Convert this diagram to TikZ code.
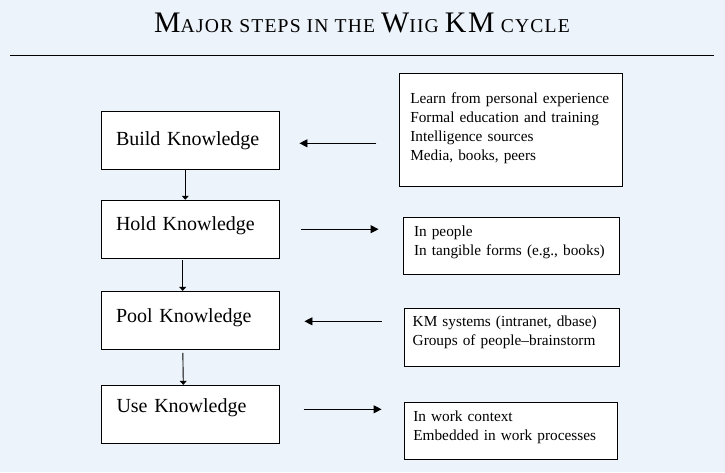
\documentclass[tikz,border=0pt]{standalone}
\usepackage{fontspec}
\usetikzlibrary{arrows.meta}
\newfontfamily\timesfont{Liberation Serif}
\newfontfamily\titlefont{Liberation Serif}[LetterSpace=6]
\newcommand{\tcap}[1]{{\fontsize{29.8}{34}\selectfont #1}}
\definecolor{pagebg}{RGB}{237,243,250}

\begin{document}
\begin{tikzpicture}[x=1pt, y=-1pt, line width=0.9pt,
  kbox/.style={draw, fill=white, minimum width=178pt, minimum height=58pt,
    text width=148pt, inner xsep=15pt, align=left,
    font=\timesfont\fontsize{20}{24}\selectfont},
  sbox/.style={draw, fill=white, align=left, text height=10pt,
    font=\timesfont\fontsize{15.3}{19}\selectfont},
  harrow/.style={-{Triangle[length=8pt,width=8pt]}},
  varrow/.style={-{Triangle[length=4pt,width=7pt]}}]
\fill[pagebg] (0,0) rectangle (725,472);
\useasboundingbox (0,0) rectangle (725,472);

\node[anchor=base, font=\titlefont\fontsize{19.6}{34}\selectfont] (title) at (362,32.3)
  {\tcap{M}AJOR STEPS IN THE \tcap{W}IIG \tcap{KM} CYCLE};
\draw[line width=0.8pt] (10,55) -- (714,55);

\node[kbox, text height=15.8pt, text depth=5pt] (build) at (190,140.3) {Build Knowledge};
\node[kbox, text height=6.6pt, text depth=5pt] (hold) at (190,229.2) {Hold Knowledge};
\node[kbox, text height=9.8pt, text depth=5pt] (pool) at (190,320.3) {Pool Knowledge};
\node[kbox, text height=4pt, text depth=8pt] (use) at (190.5,414.3) {Use Knowledge};

\node[sbox, minimum height=113pt, text width=201pt, inner xsep=11pt, text depth=63pt] (learn) at (510.8,129.8)
  {Learn from personal experience\\ Formal education and training\\ Intelligence sources\\ Media, books, peers};
\node[sbox, minimum height=56.7pt, text width=194.6pt, inner xsep=10.7pt, text depth=28pt] (people) at (511.3,245.7)
  {In people\\ In tangible forms (e.g., books)};
\node[sbox, minimum height=58pt, text width=198.2pt, inner xsep=8.4pt, text depth=31.2pt] (systems) at (511.8,337.3)
  {KM systems (intranet, dbase)\\ Groups of people–brainstorm};
\node[sbox, minimum height=57pt, text width=195.4pt, inner xsep=9pt, text depth=29.6pt] (context) at (511,430.8)
  {In work context\\ Embedded in work processes};

% down the cycle
\draw[varrow] ([xshift=-4.7pt]build.south) -- ([xshift=-4.7pt]hold.north);
\draw[varrow, shorten <=1.5pt] ([xshift=-7.3pt]hold.south) -- ([xshift=-7.3pt]pool.north);
\draw[varrow, shorten <=3pt] ([xshift=-7.2pt]pool.south) -- ([xshift=-7.2pt]use.north);

% sources and places
\draw[harrow, shorten <=22.6pt, shorten >=20pt] ([yshift=-3pt]learn.west |- build.east) -- ([yshift=-3pt]build.east);
\draw[harrow, shorten <=22pt, shorten >=24.3pt] (hold.east) -- (hold.east -| people.west);
\draw[harrow, shorten <=22.3pt, shorten >=25pt] ([yshift=-1pt]systems.west |- pool.east) -- ([yshift=-1pt]pool.east);
\draw[harrow, shorten <=23.7pt, shorten >=22.3pt] ([yshift=5pt]use.east) -- ([yshift=5pt]use.east -| context.west);
\end{tikzpicture}
\end{document}
